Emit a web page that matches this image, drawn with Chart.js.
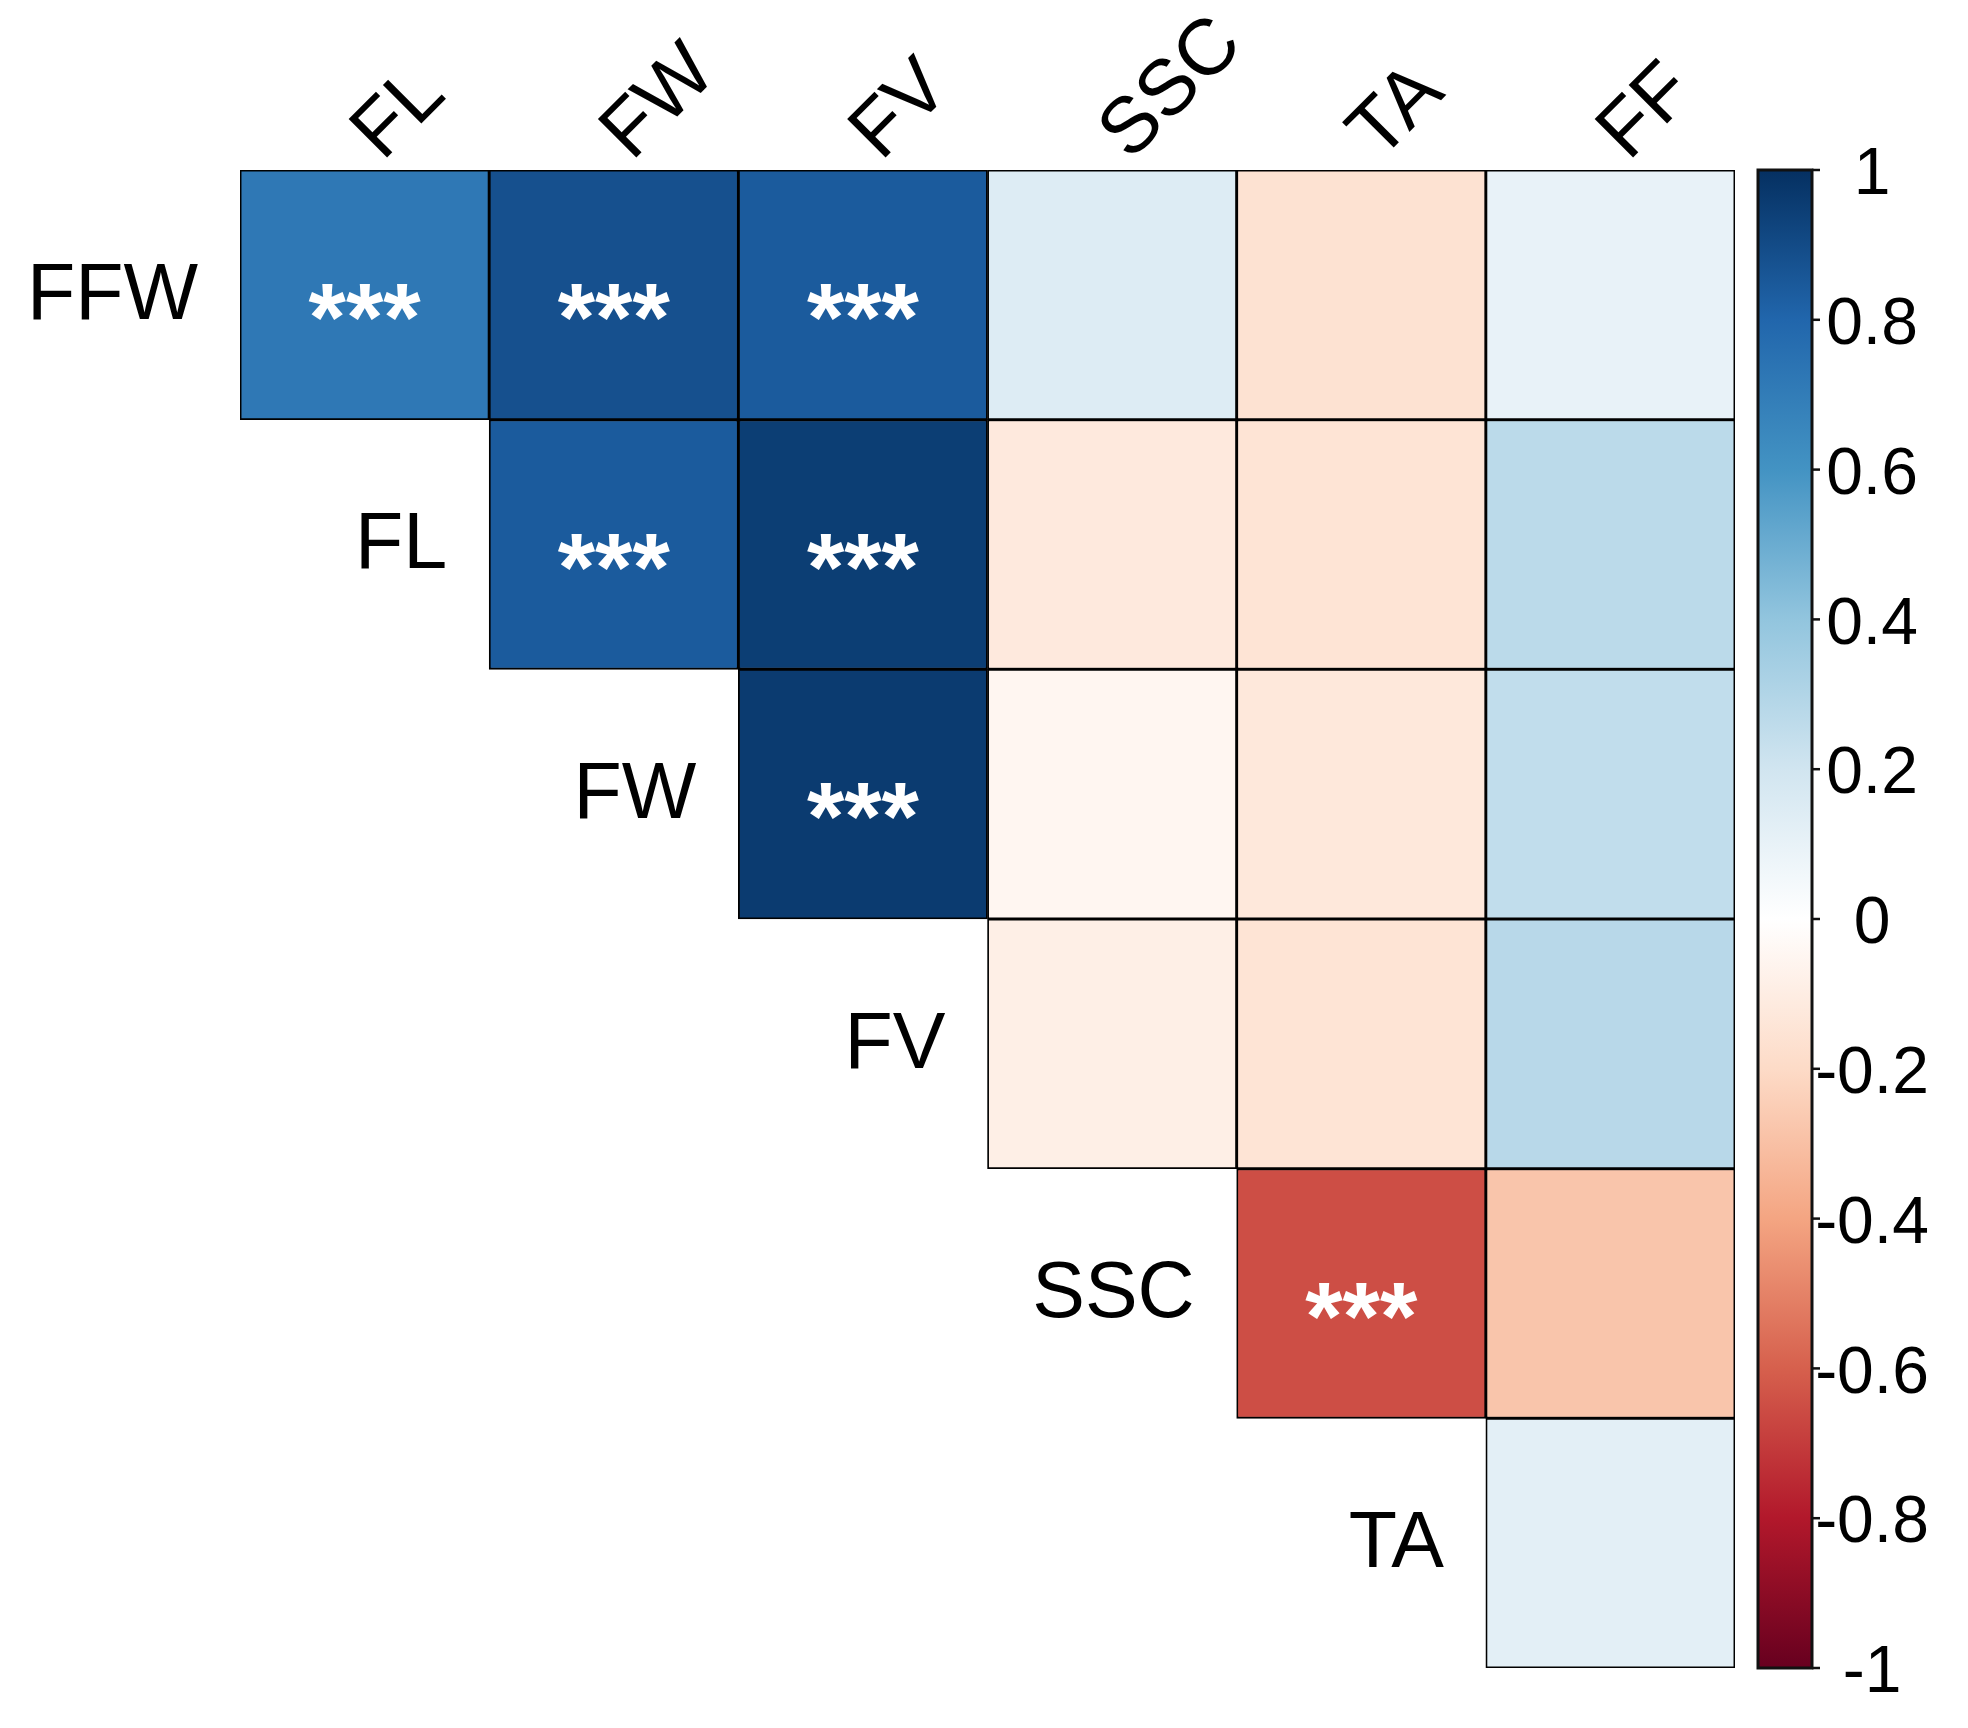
<!DOCTYPE html>
<html>
<head>
<meta charset="utf-8">
<script src="https://cdn.jsdelivr.net/npm/chart.js@4.4.1/dist/chart.umd.min.js"></script>
<style>
  html, body { margin: 0; padding: 0; background: #ffffff; }
  canvas { display: block; }
</style>
</head>
<body>
<canvas id="corrChart" width="1968" height="1728"></canvas>
<script>
// etiquetas de filas y columnas
const rowLabels = ['FFW', 'FL', 'FW', 'FV', 'SSC', 'TA'];
const colLabels = ['FL', 'FW', 'FV', 'SSC', 'TA', 'FF'];

// coeficientes por fila (null = triangulo vacio)
const corrFFW = [0.72, 0.88, 0.84, 0.15, -0.16, 0.10];
const corrFL  = [null, 0.84, 0.95, -0.12, -0.15, 0.27];
const corrFW  = [null, null, 0.96, -0.05, -0.13, 0.25];
const corrFV  = [null, null, null, -0.09, -0.15, 0.28];
const corrSSC = [null, null, null, null, -0.65, -0.28];
const corrTA  = [null, null, null, null, null, 0.12];

// significancia
const sigFFW = ['***', '***', '***', '', '', ''];
const sigFL  = ['', '***', '***', '', '', ''];
const sigFW  = ['', '', '***', '', '', ''];
const sigFV  = ['', '', '', '', '', ''];
const sigSSC = ['', '', '', '', '***', ''];
const sigTA  = ['', '', '', '', '', ''];

// barra de color
const colorbarTicks = [1, 0.8, 0.6, 0.4, 0.2, 0, -0.2, -0.4, -0.6, -0.8, -1];
const colorbarLabels = ['1', '0.8', '0.6', '0.4', '0.2', '0', '-0.2', '-0.4', '-0.6', '-0.8', '-1'];

const corrRows = [corrFFW, corrFL, corrFW, corrFV, corrSSC, corrTA];
const sigRows = [sigFFW, sigFL, sigFW, sigFV, sigSSC, sigTA];
const nRows = rowLabels.length;

// paleta RdBu (de -1 a 1)
const palette = ['#67001F', '#B2182B', '#D6604D', '#F4A582', '#FDDBC7', '#FFFFFF',
                 '#D1E5F0', '#92C5DE', '#4393C3', '#2166AC', '#053061'];

function hexToRgb(h) {
    return [parseInt(h.slice(1, 3), 16), parseInt(h.slice(3, 5), 16), parseInt(h.slice(5, 7), 16)];
}

function corrColor(v) {
    if (v === null) return 'rgba(0,0,0,0)';
    let t = (v + 1) / 2 * (palette.length - 1);
    let i = Math.min(Math.floor(t), palette.length - 2);
    let f = t - i;
    let a = hexToRgb(palette[i]), b = hexToRgb(palette[i + 1]);
    let c = a.map((x, k) => Math.round(x + (b[k] - x) * f));
    return `rgb(${c[0]},${c[1]},${c[2]})`;
}

const FONT = '"Liberation Sans", Arial, sans-serif';

const labelsPlugin = {
    id: 'corrLabels',
    afterDraw(chart) {
        const ctx = chart.ctx;
        const xs = chart.scales.x;
        const ys = chart.scales.y;
        const cellW = xs.getPixelForValue(1) - xs.getPixelForValue(0);
        const area = chart.chartArea;

        ctx.save();

        // asteriscos
        ctx.fillStyle = '#ffffff';
        ctx.font = 'bold 96px ' + FONT;
        ctx.textAlign = 'center';
        ctx.textBaseline = 'alphabetic';
        sigRows.forEach((row, r) => {
            row.forEach((s, c) => {
                if (!s) return;
                const cx = xs.getPixelForValue(c);
                const cy = ys.getPixelForValue(nRows - r - 0.5);
                ctx.fillText(s, cx, cy + 55);
            });
        });

        // etiquetas de filas
        ctx.fillStyle = '#000000';
        ctx.font = '79px ' + FONT;
        ctx.textAlign = 'right';
        ctx.textBaseline = 'middle';
        rowLabels.forEach((lab, r) => {
            const x0 = xs.getPixelForValue(r) - cellW / 2 - 42;
            const cy = ys.getPixelForValue(nRows - r - 0.5);
            ctx.fillText(lab, x0, cy + 2);
        });

        // etiquetas de columnas (45 grados)
        ctx.textAlign = 'left';
        ctx.textBaseline = 'alphabetic';
        colLabels.forEach((lab, c) => {
            const cx = xs.getPixelForValue(c);
            ctx.save();
            ctx.translate(cx + 18, area.top - 8);
            ctx.rotate(-Math.PI / 4);
            ctx.fillText(lab, 0, 0);
            ctx.restore();
        });

        // barra de color
        const cbLeft = area.right + 23;
        const cbRight = area.right + 77;
        const yOf = v => ys.getPixelForValue(nRows / 2 + v * nRows / 2);
        const grad = ctx.createLinearGradient(0, yOf(-1), 0, yOf(1));
        palette.forEach((col, i) => grad.addColorStop(i / (palette.length - 1), col));
        ctx.fillStyle = grad;
        ctx.fillRect(cbLeft, yOf(1), cbRight - cbLeft, yOf(-1) - yOf(1));
        ctx.strokeStyle = '#111111';
        ctx.lineWidth = 3;
        ctx.strokeRect(cbLeft, yOf(1), cbRight - cbLeft, yOf(-1) - yOf(1));

        ctx.font = '66px ' + FONT;
        ctx.fillStyle = '#000000';
        ctx.textAlign = 'center';
        ctx.textBaseline = 'middle';
        ctx.lineWidth = 2.5;
        colorbarTicks.forEach((v, i) => {
            const ty = yOf(v);
            ctx.beginPath();
            ctx.moveTo(cbRight, ty);
            ctx.lineTo(cbRight + 8, ty);
            ctx.stroke();
            ctx.fillText(colorbarLabels[i], cbRight + 60, ty + 6);
        });

        ctx.restore();
    }
};

const ctx = document.getElementById('corrChart').getContext('2d');

new Chart(ctx, {
    type: 'bar',
    data: {
        labels: colLabels,
        datasets: corrRows.map((vals, r) => ({
            label: rowLabels[r],
            data: vals.map(v => v === null ? null : [nRows - r - 1, nRows - r]),
            backgroundColor: vals.map(v => corrColor(v)),
            borderColor: '#000000',
            borderWidth: 1.8,
            borderSkipped: false
        }))
    },
    options: {
        responsive: false,
        devicePixelRatio: 1,
        animation: false,
        layout: {
            padding: { left: 240, right: 233, top: 170, bottom: 60 }
        },
        datasets: {
            bar: { grouped: false, barPercentage: 1, categoryPercentage: 1 }
        },
        scales: {
            x: { type: 'category', display: false },
            y: { type: 'linear', min: 0, max: nRows, display: false }
        },
        plugins: {
            legend: { display: false },
            tooltip: { enabled: false }
        }
    },
    plugins: [labelsPlugin]
});
</script>
</body>
</html>
